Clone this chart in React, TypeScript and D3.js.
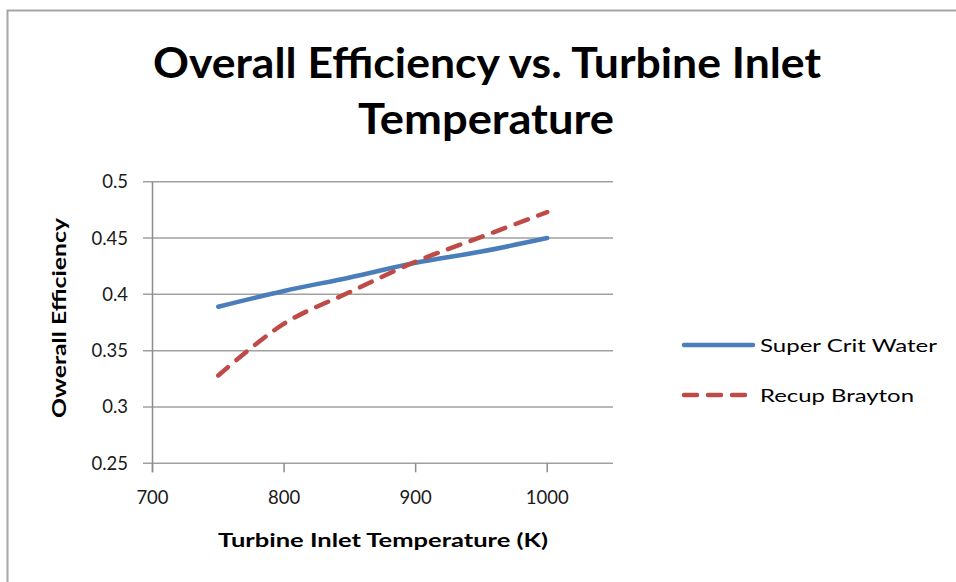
import React from "react";
import * as d3 from "d3";

const temps = [750, 800, 850, 900, 950, 1000];
const superCritWater = [0.389, 0.403, 0.415, 0.428, 0.438, 0.45];
const recupBrayton = [0.328, 0.374, 0.402, 0.429, 0.451, 0.473];
const xTicks = [700, 800, 900, 1000];
const yTicks = [0.25, 0.3, 0.35, 0.4, 0.45, 0.5];
const seriesNames = ["Super Crit Water", "Recup Brayton"];
const titleLines = ["Overall Efficiency vs. Turbine Inlet", "Temperature"];
const xTitle = "Turbine Inlet Temperature (K)";
const yTitle = "Owerall Efficiency";

const W = 956;
const H = 582;
const FONT = "Lato, 'Open Sans', sans-serif";
const BLUE = "#4a7ebb";
const RED = "#be4b48";

export default function App() {
  const x = d3.scaleLinear().domain([700, 1050]).range([152.5, 613]);
  const y = d3.scaleLinear().domain([0.25, 0.5]).range([463.3, 181.7]);

  const line = d3
    .line<[number, number]>()
    .x((d) => x(d[0]))
    .y((d) => y(d[1]))
    .curve(d3.curveCatmullRom.alpha(0.5));

  const blueData: [number, number][] = temps.map((t, i) => [t, superCritWater[i]]);
  const redData: [number, number][] = temps.map((t, i) => [t, recupBrayton[i]]);

  return (
    <svg
      width={W}
      height={H}
      style={{ position: "absolute", left: 0, top: 0, background: "#fff" }}
    >
      <rect x={0} y={0} width={W} height={H} fill="#fff" />
      {/* chart border */}
      <rect x={7.5} y={10.5} width={W + 20} height={H + 20} fill="none" stroke="#a6a6a6" strokeWidth={2} />

      {/* title */}
      <text x={487} y={78} textAnchor="middle" fontFamily={FONT} fontWeight={700} fontSize={42}
        textLength={668} lengthAdjust="spacingAndGlyphs" fill="#000">{titleLines[0]}</text>
      <text x={486} y={134} textAnchor="middle" fontFamily={FONT} fontWeight={700} fontSize={42}
        textLength={256} lengthAdjust="spacingAndGlyphs" fill="#000">{titleLines[1]}</text>

      {/* gridlines and y ticks */}
      {yTicks.map((v) => (
        <g key={v}>
          <line x1={143} x2={613} y1={y(v)} y2={y(v)} stroke="#a0a0a0" strokeWidth={1.5} />
          <text x={128} y={y(v) + 6.5} textAnchor="end" fontFamily={FONT} fontSize={18.5} fill="#1a1a1a">
            {String(v)}
          </text>
        </g>
      ))}
      {/* y axis */}
      <line x1={x(700)} x2={x(700)} y1={y(0.5)} y2={y(0.25) + 9} stroke="#8c8c8c" strokeWidth={1.5} />
      {/* x ticks */}
      {xTicks.map((v) => (
        <g key={v}>
          <line x1={x(v)} x2={x(v)} y1={y(0.25)} y2={y(0.25) + 9} stroke="#8c8c8c" strokeWidth={1.5} />
          <text x={x(v)} y={504} textAnchor="middle" fontFamily={FONT} fontSize={18.5} fill="#1a1a1a">
            {String(v)}
          </text>
        </g>
      ))}

      {/* axis titles */}
      <text x={383} y={547} textAnchor="middle" fontFamily={FONT} fontWeight={700} fontSize={19}
        textLength={330} lengthAdjust="spacingAndGlyphs" fill="#000">{xTitle}</text>
      <text transform="translate(66,318) rotate(-90)" textAnchor="middle" fontFamily={FONT} fontWeight={700}
        fontSize={19} textLength={200} lengthAdjust="spacingAndGlyphs" fill="#000">{yTitle}</text>

      {/* series */}
      <path d={line(blueData) || ""} fill="none" stroke={BLUE} strokeWidth={4.5} strokeLinecap="round" />
      <path d={line(redData) || ""} fill="none" stroke={RED} strokeWidth={4.5} strokeLinecap="round"
        strokeDasharray="13 11" />

      {/* legend */}
      <line x1={684} x2={753} y1={345} y2={345} stroke={BLUE} strokeWidth={4.5} strokeLinecap="round" />
      <text x={760} y={351.5} fontFamily={FONT} fontSize={18} fill="#000" textLength={177}
        lengthAdjust="spacingAndGlyphs">{seriesNames[0]}</text>
      <line x1={684} x2={748} y1={395} y2={395} stroke={RED} strokeWidth={4.5} strokeLinecap="round"
        strokeDasharray="13 11" />
      <text x={760} y={401.5} fontFamily={FONT} fontSize={18} fill="#000" textLength={154}
        lengthAdjust="spacingAndGlyphs">{seriesNames[1]}</text>
    </svg>
  );
}
